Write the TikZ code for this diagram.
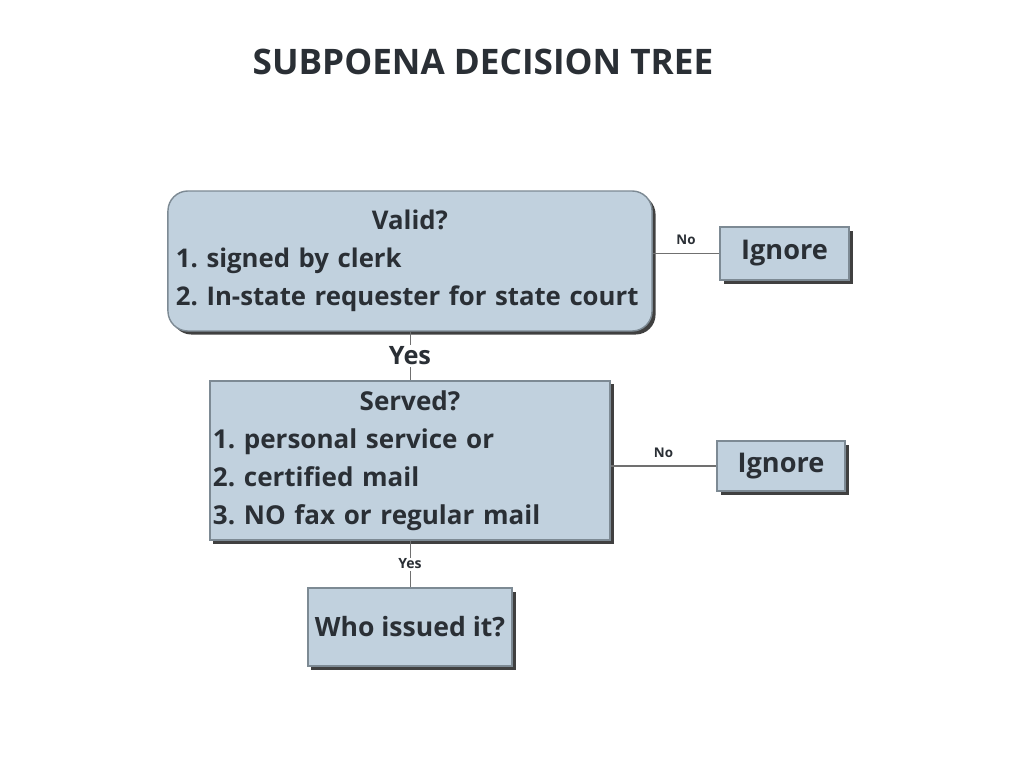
\documentclass[tikz,border=0pt]{standalone}
\usepackage{fontspec}
\setmainfont{Open Sans}
\usetikzlibrary{shadows}
\definecolor{boxfill}{HTML}{C1D1DE}
\definecolor{boxline}{HTML}{7D8A94}
\definecolor{ink}{HTML}{2A2F35}
\definecolor{wire}{HTML}{707070}
\tikzset{
  every node/.style={
    text=ink,
    font=\bfseries
  },
  box/.style={
    draw=boxline,
    fill=boxfill,
    line width=1pt,
    drop shadow={shadow xshift=2.5pt, shadow yshift=-2.5pt, fill=black!75, opacity=1}
  },
  wire/.style={
    draw=wire,
    line width=1.4pt
  }
}
\frenchspacing

\begin{document}
\begin{tikzpicture}[x=0.025cm, y=-0.025cm]
    \useasboundingbox (0,0) rectangle (1024,768);

    % title
    \node[font=\bfseries\fontsize{25}{30}\selectfont] (title) at (483,62) {SUBPOENA DECISION TREE};

    % boxes
    \node[box, rounded corners=0.5cm, minimum width=12.1cm, minimum height=3.5cm,
          text width=11.7cm, inner xsep=0.2cm, align=left,
          font=\bfseries\fontsize{18.3}{27}\selectfont] (valid) at (410,261)
      {{\centering Valid?\par}1. signed by clerk\\\mbox{2. In-state requester for state court}};
    \node[box, minimum width=3.225cm, minimum height=1.325cm,
          font=\bfseries\fontsize{19.3}{22}\selectfont] (ignoreA) at (784.5,253.5) {Ignore};
    \node[box, minimum width=10cm, minimum height=3.975cm,
          text width=9.85cm, inner xsep=0.075cm, align=left,
          font=\bfseries\fontsize{18.5}{27}\selectfont] (served) at (410,460.5)
      {{\centering Served?\par}1. personal service or\\2. certified mail\\3. NO fax or regular mail};
    \node[box, minimum width=3.2cm, minimum height=1.25cm,
          font=\bfseries\fontsize{19.3}{22}\selectfont] (ignoreB) at (781,466) {Ignore};
    \node[box, minimum width=5.1cm, minimum height=1.95cm,
          font=\bfseries\fontsize{18.9}{22}\selectfont] (who) at (410,627) {Who issued it?};

    % connectors
    \draw[wire] (valid.east |- ignoreA) -- node[above=2pt, font=\bfseries\fontsize{9.5}{10}\selectfont] (noA) {No} (ignoreA.west);
    \draw[wire] (served.east |- ignoreB) -- node[above=2pt, font=\bfseries\fontsize{9.5}{10}\selectfont] (noB) {No} (ignoreB.west);
    \draw[wire, line width=0.6pt] (valid.south) -- node[fill=white, inner sep=1pt, font=\bfseries\fontsize{18}{20}\selectfont] (yesA) {Yes} (served.north);
    \draw[wire, line width=0.6pt] (served.south) -- node[fill=white, inner sep=1pt, font=\bfseries\fontsize{10}{11}\selectfont] (yesB) {Yes} (who.north);
\end{tikzpicture}
\end{document}
